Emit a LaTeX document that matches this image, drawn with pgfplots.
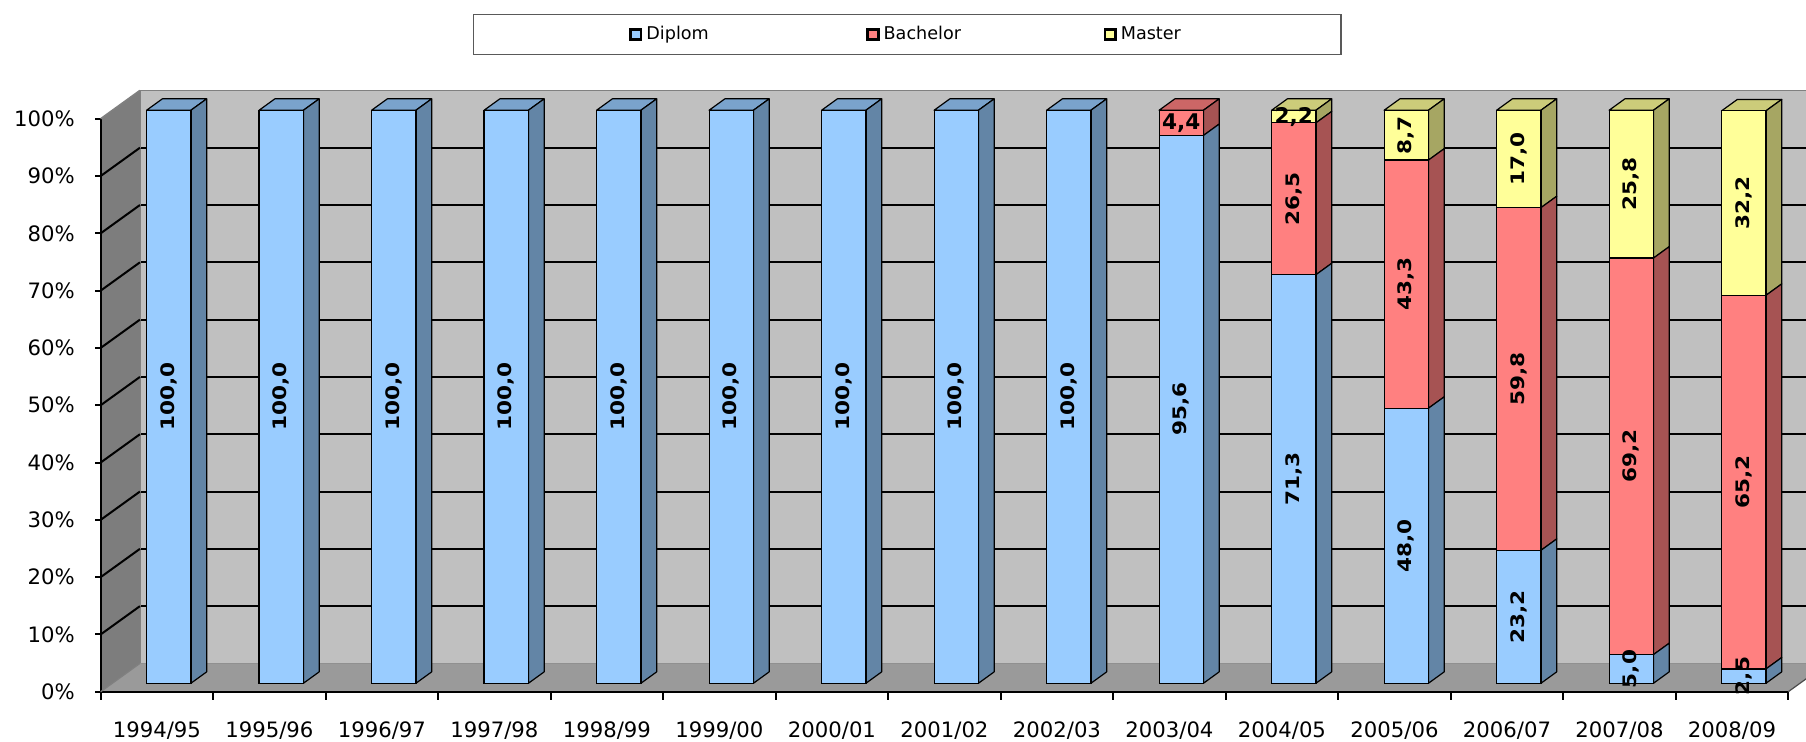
\documentclass[border=0pt]{standalone}
\usepackage{pgfplots}
\pgfplotsset{compat=1.18}
\usepackage{pgfplotstable}
\usepackage{fontspec}
\setmainfont{DejaVu Sans}

\definecolor{cD}{HTML}{99CCFF}
\definecolor{cB}{HTML}{FF8080}
\definecolor{cM}{HTML}{FFFF99}
\definecolor{sD}{HTML}{6385A6}
\definecolor{sB}{HTML}{A65353}
\definecolor{sM}{HTML}{A6A663}
\definecolor{tD}{HTML}{7AA3CC}
\definecolor{tB}{HTML}{CC6666}
\definecolor{tM}{HTML}{CCCC7A}
\definecolor{wallc}{HTML}{C0C0C0}
\definecolor{floorc}{HTML}{9A9A9A}
\definecolor{sidewallc}{HTML}{7D7D7D}

\pgfkeys{/pgf/number format/.cd, use comma, fixed, fixed zerofill, precision=1, assume math mode=true}
\newcommand\lblfont{\bfseries\fontsize{10.8}{12}\selectfont}
\newcommand\lblfontr{\bfseries\fontsize{9.3}{11}\selectfont}

\pgfplotstableread{
x D B M Drot Brot Mrot
0 100.0 0 0 90 90 90
1 100.0 0 0 90 90 90
2 100.0 0 0 90 90 90
3 100.0 0 0 90 90 90
4 100.0 0 0 90 90 90
5 100.0 0 0 90 90 90
6 100.0 0 0 90 90 90
7 100.0 0 0 90 90 90
8 100.0 0 0 90 90 90
9 95.6 4.4 0 90 0 90
10 71.3 26.5 2.2 90 90 0
11 48.0 43.3 8.7 90 90 90
12 23.2 59.8 17.0 90 90 90
13 5.0 69.2 25.8 90 90 90
14 2.5 65.2 32.2 90 90 90
}\data

% read one row of the table: stacked bounds and geometry of bar #1
\newcommand\readbar[1]{%
  \pgfplotstablegetelem{#1}{D}\of\data \edef\vD{\pgfplotsretval}%
  \pgfplotstablegetelem{#1}{B}\of\data \edef\vB{\pgfplotsretval}%
  \pgfplotstablegetelem{#1}{M}\of\data \edef\vM{\pgfplotsretval}%
  \pgfplotstablegetelem{#1}{Drot}\of\data \edef\rD{\pgfplotsretval}%
  \pgfplotstablegetelem{#1}{Brot}\of\data \edef\rB{\pgfplotsretval}%
  \pgfplotstablegetelem{#1}{Mrot}\of\data \edef\rM{\pgfplotsretval}%
  \pgfmathsetmacro\yA{\vD}%
  \pgfmathsetmacro\yB{\vD+\vB}%
  \pgfmathsetmacro\yC{\vD+\vB+\vM}%
  \edef\xC{#1}%
  \pgfmathsetmacro\xL{#1-0.197}%
  \pgfmathsetmacro\xR{#1+0.197}%
  \pgfmathsetmacro\xLL{#1-0.197+0.14}%
  \pgfmathsetmacro\xRR{#1+0.197+0.14}}
% side face of one stacked segment: colour, bottom, top
\newcommand\barside[3]{%
  \pgfmathsetmacro\sfb{#2+1.99}%
  \pgfmathsetmacro\sft{#3+1.99}%
  \edef\mytmp{\noexpand\filldraw[fill=#1,draw=black,line width=0.6pt,line join=round] (axis cs:\xR,#2) -- (axis cs:\xRR,\sfb) -- (axis cs:\xRR,\sft) -- (axis cs:\xR,#3) -- cycle;}%
  \mytmp}
% value label of one segment: value, bottom, top, rotation
\newcommand\seglabel[4]{%
  \pgfmathsetmacro\lym{(#2+#3)/2}%
  \ifnum#4=0
    \edef\mytmp{\noexpand\node[font=\noexpand\lblfont,inner sep=0pt,text=black] at (axis cs:\xC,\lym) {\noexpand\pgfmathprintnumber{#1}};}%
  \else
    \edef\mytmp{\noexpand\node[rotate=#4,xscale=1.16,font=\noexpand\lblfontr,inner sep=0pt,text=black] at (axis cs:\xC,\lym) {\noexpand\pgfmathprintnumber{#1}};}%
  \fi
  \mytmp}

\pgfplotsset{common/.style={x=56.25pt, y=2.865pt, clip=false}}

\begin{document}
\begin{tikzpicture}
% ---------- back wall with its grid, left wall and floor ----------
\begin{axis}[common,
  at={(19.631pt,14.153pt)}, anchor=south west,
  xmin=-0.256, xmax=14.744, ymin=3.46, ymax=103.46,
  axis background/.style={fill=wallc},
  axis line style={draw=black!50, line width=0.8pt},
  xtick=\empty,
  ytick={13.46,23.46,33.46,43.46,53.46,63.46,73.46,83.46,93.46},
  yticklabels={},
  tick style={draw=none},
  ymajorgrids, grid style={black, line width=1pt},
]
\fill[sidewallc] (axis cs:-0.605,-1.48) -- (axis cs:-0.256,3.46) -- (axis cs:-0.256,103.46) -- (axis cs:-0.605,98.52) -- cycle;
\fill[floorc] (axis cs:-0.605,-1.48) -- (axis cs:14.395,-1.48) -- (axis cs:14.744,3.46) -- (axis cs:-0.256,3.46) -- cycle;
\end{axis}
% ---------- bars ----------
\begin{axis}[common,
  xmin=-0.605, xmax=14.744, ymin=-1.48, ymax=103.46,
  axis line style={draw=none},
  tick style={draw=none},
  major tick length=0pt, minor tick length=0pt,
  xtick={0,...,14},
  xticklabels={1994/95,1995/96,1996/97,1997/98,1998/99,1999/00,2000/01,2001/02,2002/03,2003/04,2004/05,2005/06,2006/07,2007/08,2008/09},
  ytick={0,10,...,100},
  yticklabels={0\%,10\%,20\%,30\%,40\%,50\%,60\%,70\%,80\%,90\%,100\%},
  tick label style={font=\fontsize{10.6}{12}\selectfont, text=black},
  xticklabel style={xshift=-5.906pt, yshift=-11.3pt},
  yticklabel style={xshift=-9.4pt, yshift=-4.24pt},
  ybar stacked, bar width=0.394,
  legend style={at={(0.467,1.127)}, anchor=north, legend columns=3, draw=black!65, line width=0.6pt, font=\fontsize{8.8}{10}\selectfont, inner xsep=78pt, inner ysep=3.8pt},
  legend cell align=left,
  legend image code/.code={\draw[#1,draw=black,line width=1.4pt] (0pt,-2.6pt) rectangle (5.2pt,2.6pt);},
]
\addplot[fill=cD, draw=black, line width=0.6pt] table[x=x, y=D] {\data};
\addlegendentry{\makebox[108pt][l]{Diplom}}
\addplot[fill=cB, draw=black, line width=0.6pt] table[x=x, y=B] {\data};
\addlegendentry{\makebox[108pt][l]{Bachelor}}
\addplot[fill=cM, draw=black, line width=0.6pt] table[x=x, y=M] {\data};
\addlegendentry{Master}
% frame lines and ticks
\pgfplotsinvokeforeach{1,...,9}{
  \draw[black,line width=1pt] (axis cs:-0.605,{#1*10-1.48}) -- (axis cs:-0.256,{#1*10+3.46});
}
\draw[black!50,line width=0.8pt] (axis cs:-0.605,98.52) -- (axis cs:-0.256,103.46);
\draw[black!50,line width=0.6pt] (axis cs:-0.605,-1.48) -- (axis cs:-0.256,3.46);
\draw[black!70,line width=0.6pt] (axis cs:14.395,-1.48) -- (axis cs:14.744,3.46);
\draw[black,line width=1pt] (axis cs:-0.605,98.52) -- (axis cs:-0.605,-1.48) -- (axis cs:14.395,-1.48);
\pgfplotsinvokeforeach{0,...,10}{
  \draw[black,line width=1pt] (axis cs:-0.605,{#1*10-1.48}) -- ++(-3pt,0pt);
}
\pgfplotsinvokeforeach{0,...,15}{
  \draw[black,line width=1pt] (axis cs:{#1-0.605},-1.48) -- ++(0pt,-4pt);
}
% side and top faces
\pgfplotsinvokeforeach{0,...,14}{%
  \readbar{#1}%
  \ifdim\vD pt>0pt \barside{sD}{0}{\yA}\fi
  \ifdim\vB pt>0pt \barside{sB}{\yA}{\yB}\fi
  \ifdim\vM pt>0pt \barside{sM}{\yB}{\yC}\fi
  \def\tc{tD}%
  \ifdim\vB pt>0pt \def\tc{tB}\fi
  \ifdim\vM pt>0pt \def\tc{tM}\fi
  \pgfmathsetmacro\ttop{\yC+1.99}%
  \edef\mytmp{\noexpand\filldraw[fill=\tc,draw=black,line width=0.6pt,line join=round] (axis cs:\xL,\yC) -- (axis cs:\xLL,\ttop) -- (axis cs:\xRR,\ttop) -- (axis cs:\xR,\yC) -- cycle;}%
  \mytmp
}
\coordinate (bbSW) at (axis cs:-1.5,-10.08);
\coordinate (bbNE) at (axis cs:14.553,119.24);
\end{axis}
% ---------- value labels ----------
\begin{axis}[common,
  xmin=-0.605, xmax=14.744, ymin=-1.48, ymax=103.46,
  hide axis,
]
\pgfplotsinvokeforeach{0,...,14}{%
  \readbar{#1}%
  \ifdim\vD pt>0pt \seglabel{\vD}{0}{\yA}{\rD}\fi
  \ifdim\vB pt>0pt \seglabel{\vB}{\yA}{\yB}{\rB}\fi
  \ifdim\vM pt>0pt \seglabel{\vM}{\yB}{\yC}{\rM}\fi
}
\end{axis}
\pgfresetboundingbox
\path[use as bounding box] (bbSW) rectangle (bbNE);
\end{tikzpicture}
\end{document}
